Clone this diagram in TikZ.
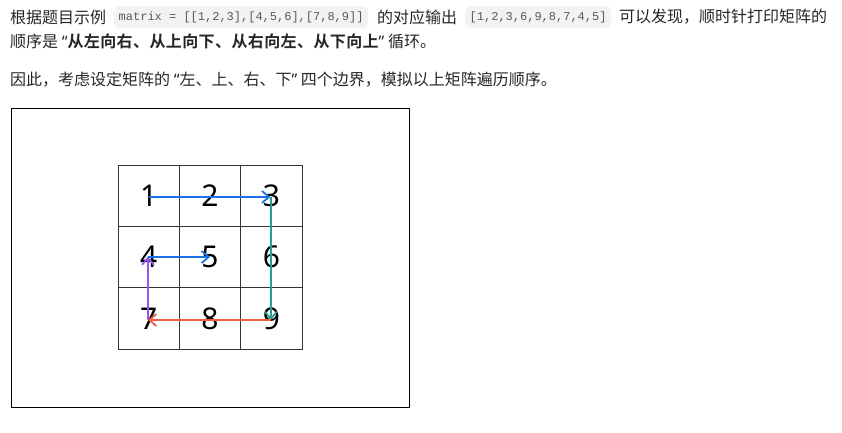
\documentclass[tikz,border=0pt]{standalone}
\usepackage{fontspec}
\setmainfont{Noto Sans CJK SC}
\newfontfamily\cjkfont{Noto Sans CJK SC}
\newfontfamily\cjkbold{Noto Sans CJK SC Bold}[LetterSpace=2.5]
\newfontfamily\codefont{Liberation Mono}
\newfontfamily\digitfont{Noto Sans}
\newfontfamily\qfont{Noto Sans}
\usetikzlibrary{arrows.meta}
\definecolor{txt}{RGB}{38,38,38}
\definecolor{codetxt}{RGB}{90,90,90}
\definecolor{codebg}{RGB}{242,242,242}
\definecolor{arblue}{RGB}{26,115,232}
\definecolor{arteal}{RGB}{42,157,143}
\definecolor{arred}{RGB}{235,94,64}
\definecolor{arpurple}{RGB}{153,85,235}
\newcommand{\myLq}{{\qfont “}}
\newcommand{\myRq}{{\qfont ”}}
\tikzset{
  para/.style={anchor=west, inner sep=0pt, text=txt, font=\cjkfont\fontsize{16}{18}\selectfont},
  code/.style={anchor=west, inner xsep=4.5pt, inner ysep=0pt, minimum height=22pt, fill=codebg, rounded corners=6pt, text=codetxt, font=\codefont\fontsize{12}{14}\selectfont},
  cell/.style={draw=black!80, line width=0.8pt, minimum width=61.33pt, minimum height=61.33pt, inner sep=0pt, font=\digitfont\fontsize{30}{32}\selectfont},
  path/.style={line width=2pt, -{Straight Barb[length=7pt,width=12pt,line width=1.8pt]}},
}
\begin{document}
\begin{tikzpicture}[x=1pt,y=-1pt]
\useasboundingbox (0,0) rectangle (842,433);
% text lines
\node[para] (t1a) at (10,17) {根据题目示例};
\node[code] (k1) at (114,17) {matrix = [[1,2,3],[4,5,6],[7,8,9]]};
\node[para] (t1b) at (377,17) {的对应输出};
\node[code] (k2) at (465,17) {[1,2,3,6,9,8,7,4,5]};
\node[para] (t1c) at (619,17) {可以发现，顺时针打印矩阵的};
\node[para] (t2a) at (10,41) {顺序是 {\qfont\bfseries “}{\cjkbold 从左向右、从上向下、从右向左、从下向上}{\qfont\bfseries ”} 循环。};
\node[para] (t3a) at (10,80) {因此，考虑设定矩阵的 \myLq 左、上、右、下\myRq{} 四个边界，模拟以上矩阵遍历顺序。};
% frame
\node[draw=black, line width=1.2pt, minimum width=398pt, minimum height=299pt, inner sep=0pt, anchor=north west] (frame) at (11,108) {};
% grid
\node[cell] (c1) at (148.67,195.67) {1};
\node[cell] (c2) at (210,195.67) {2};
\node[cell] (c3) at (271.33,195.67) {3};
\node[cell] (c4) at (148.67,257) {4};
\node[cell] (c5) at (210,257) {5};
\node[cell] (c6) at (271.33,257) {6};
\node[cell] (c7) at (148.67,318.33) {7};
\node[cell] (c8) at (210,318.33) {8};
\node[cell] (c9) at (271.33,318.33) {9};
% arrows
\draw[path, arblue] ([yshift=-1.3pt]c1.center) -- ([yshift=-1.3pt,xshift=-1pt]c3.center);
\draw[path, arteal] ([yshift=-1.3pt,xshift=-0.5pt]c3.center) -- ([yshift=-1.7pt,xshift=-0.5pt]c9.center);
\draw[path, arred] ([yshift=-1.7pt,xshift=-0.5pt]c9.center) -- ([yshift=-1.7pt,xshift=-0.7pt]c7.center);
\draw[path, arpurple] ([yshift=-1.7pt,xshift=-0.7pt]c7.center) -- ([yshift=0.5pt,xshift=-0.7pt]c4.center);
\draw[path, arblue] ([xshift=-0.7pt]c4.center) -- (c5.center);
\end{tikzpicture}
\end{document}
